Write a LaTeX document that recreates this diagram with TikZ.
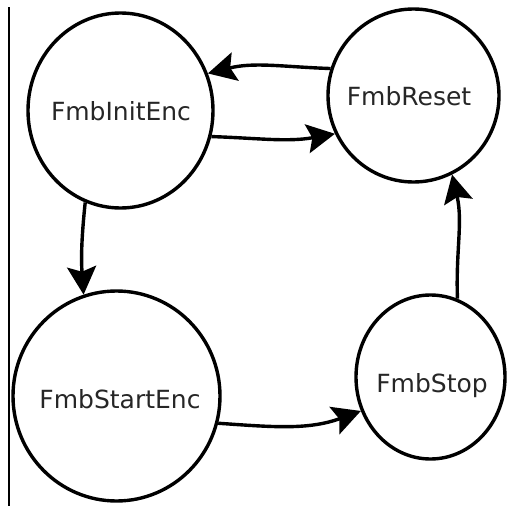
\documentclass[tikz,border=0pt]{standalone}
\usepackage{fontspec}
\setmainfont{DejaVu Sans}
\usetikzlibrary{shapes.geometric,arrows.meta}

\tikzset{
  state/.style={draw=black, line width=3.4pt, shape=ellipse, inner sep=0pt},
  statetext/.style={anchor=base, inner sep=0pt, text=black!85,
    font=\fontsize{25}{30}\selectfont},
  trans/.style={draw=black, line width=3.4pt,
    -{Stealth[length=28pt, width=29pt, inset=5pt]}},
}

\begin{document}
\begin{tikzpicture}[x=1pt, y=-1pt]
  \useasboundingbox (0,0) rectangle (507,506);

  % margin rule on the left
  \draw[line width=1.4pt] (9,7) -- (9,506);

  % states
  \node[state, minimum width=185pt, minimum height=195pt] (init)  at (120.5,110.5) {};
  \node[state, minimum width=171pt, minimum height=173pt] (reset) at (413.5,95.5) {};
  \node[state, minimum width=207pt, minimum height=210pt] (start) at (116.5,396) {};
  \node[state, minimum width=149pt, minimum height=164pt] (stop)  at (430.5,377) {};

  % state names
  \node[statetext] (initT)  at (121,120.7) {FmbInitEnc};
  \node[statetext] (resetT) at (409,105)   {FmbReset};
  \node[statetext] (startT) at (120,408)   {FmbStartEnc};
  \node[statetext] (stopT)  at (432,392)   {FmbStop};

  % transitions
  \draw[trans] (reset.162) to[out=178, in=14]  (init.23);
  \draw[trans] (init.-16)  to[out=-2,  in=190] (reset.206);
  \draw[trans] (init.-111) to[out=-96, in=94]  (start.108);
  \draw[trans] (start.-15) to[out=-4,  in=200] (stop.206);
  \draw[trans] (stop.71)   to[out=92,  in=-77] (reset.-64);
\end{tikzpicture}
\end{document}
